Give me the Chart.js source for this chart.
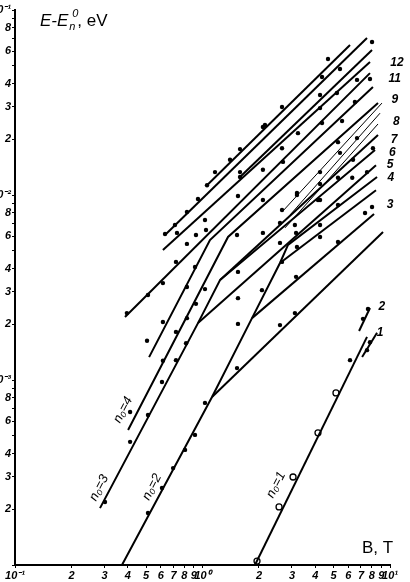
<!DOCTYPE html>
<html>
<head>
<meta charset="utf-8">
<script src="https://cdn.jsdelivr.net/npm/chart.js@4/dist/chart.umd.min.js"></script>
<style>
  html, body { margin: 0; padding: 0; background: #fff; }
  #wrap { width: 410px; height: 582px; }
</style>
</head>
<body>
<div id="wrap"><canvas id="myChart" width="410" height="582"></canvas></div>
<script>
// axis ticks
const xTicks = [0.1,0.2,0.3,0.4,0.5,0.6,0.7,0.8,0.9,1,2,3,4,5,6,7,8,9,10];
const xTickLabels = ["10⁻¹","2","3","4","5","6","7","8","9","10⁰","2","3","4","5","6","7","8","9","10¹"];
const yTicks = [1e-4,2e-4,3e-4,4e-4,5e-4,6e-4,7e-4,8e-4,9e-4,
                1e-3,2e-3,3e-3,4e-3,5e-3,6e-3,7e-3,8e-3,9e-3,
                1e-2,2e-2,3e-2,4e-2,5e-2,6e-2,7e-2,8e-2,9e-2,1e-1];
const yTickLabels = ["","2","3","4","","6","","8","",
                     "10⁻³","2","3","4","","6","","8","",
                     "10⁻²","2","3","4","","6","","8","","10⁻¹"];

// n0 = 1
const n1B = [1.905, 7.54];          const n1E = [1.0e-4, 1.71e-3];
const n1aB = [7.10, 8.53];          const n1aE = [1.33e-3, 1.80e-3];
const n1bB = [6.84, 7.82];          const n1bE = [1.84e-3, 2.45e-3];
// n0 = 2 and its branches
const n2B = [0.372, 1.124, 1.837, 2.59, 2.858, 8.53];
const n2E = [1.0e-4, 8.09e-4, 2.16e-3, 4.29e-3, 5.37e-3, 0.0125];
const n2aB = [1.124, 9.18];         const n2aE = [8.09e-4, 6.31e-3];
const n2bB = [1.837, 8.22];         const n2bE = [2.16e-3, 7.89e-3];
const n2cB = [2.59, 8.42];          const n2cE = [4.29e-3, 0.0106];
// n0 = 3 and its branches
const n3B = [0.284, 0.946, 1.240, 8.32];
const n3E = [2.03e-4, 2.03e-3, 3.47e-3, 0.0175];
const n3aB = [0.946, 8.42];         const n3aE = [2.03e-3, 0.0145];
const n3bB = [1.240, 8.63];         const n3bE = [3.47e-3, 0.0211];
// n0 = 4
const n4B = [0.401, 1.368, 8.63];   const n4E = [5.37e-4, 5.93e-3, 0.0314];
const n4aB = [0.519, 1.096, 8.11];  const n4aE = [1.33e-3, 5.71e-3, 0.0384];
// upper lines
const t1B = [1.057, 6.12];          const t1E = [0.0113, 0.0647];
const t2B = [0.631, 7.54];          const t2E = [6.08e-3, 0.0706];
const t3B = [0.615, 7.82];          const t3E = [5.04e-3, 0.0524];
const t4B = [1.585, 8.02];          const t4E = [0.0125, 0.0608];
const t5B = [0.386, 7.82];          const t5E = [2.19e-3, 0.0456];
// thin hatched lines
const h1B = [2.655, 9.06];          const h1E = [8.09e-3, 0.0314];
const h2B = [2.93, 8.85];           const h2E = [7.8e-3, 0.0277];
const h3B = [2.754, 8.63];          const h3E = [6.64e-3, 0.0242];

// open circles (n0=1)
const circB = [1.953, 2.56, 3.04, 4.13, 5.15];
const circE = [1.05e-4, 2.06e-4, 2.99e-4, 5.18e-4, 8.51e-4];

// measured points
const dotB = [6.12,7.54,7.82,7.18,7.63, 0.512,0.608,0.697,0.807,0.912,1.031,0.302,0.411,0.411,0.512,0.608,
  0.395,0.512,0.615,0.722,0.912,0.826,0.923,1.031,1.044,0.826,0.713,0.631,0.731,0.826,1.031,0.923,0.826,
  0.722,0.615,0.506,0.817,0.722,0.615,1.528,1.546,1.546,1.546,1.528,1.546,2.10,2.075,2.59,3.11,2.59,2.655,
  3.155,3.19,3.155,4.236,4.13,5.28,3.19,2.10,4.236,2.154,1.585,1.585,2.10,0.946,1.057,8.02,4.67,4.34,5.41,
  7.82,6.67,4.236,5.21,6.50,2.655,4.236,3.23,5.55,2.10,2.655,8.11,4.34,5.28,6.67,2.687,5.41,6.35,4.236,5.28,
  6.29,7.54,3.19,4.236,2.655,7.36,8.02,3.11,4.236,5.28,2.59,1.585,1.402,1.166];
const dotE = [1.28e-3,1.45e-3,1.60e-3,2.14e-3,2.42e-3, 1.91e-4,2.61e-4,3.34e-4,4.19e-4,5.05e-4,7.52e-4,2.19e-4,4.63e-4,6.72e-4,6.47e-4,9.75e-4,
  2.30e-3,2.88e-3,3.34e-3,4.35e-3,4.08e-3,5.44e-3,6.08e-3,7.33e-3,6.47e-3,8.09e-3,6.89e-3,6.16e-3,6.24e-3,3.18e-3,3.10e-3,2.58e-3,2.16e-3,
  1.82e-3,2.06e-3,1.63e-3,1.58e-3,1.28e-3,1.27e-3,6.08e-3,3.84e-3,2.77e-3,2.01e-3,1.16e-3,9.88e-3,6.24e-3,3.06e-3,1.98e-3,2.30e-3,7.06e-3,4.35e-3,
  3.61e-3,5.24e-3,6.24e-3,0.01146,9.40e-3,8.83e-3,0.0100,9.40e-3,5.93e-3,0.0239,0.0177,0.0133,0.0137,9.51e-3,0.0113,0.0671,0.0543,0.0434,0.0480,
  0.0424,0.0419,0.0347,0.0356,0.0318,0.0299,0.0295,0.0216,0.0251,0.0233,0.0179,0.0179,0.0245,0.0193,0.0203,0.0151,0.0169,0.0155,0.0133,0.0124,
  0.0124,0.0133,0.01025,9.40e-3,8.30e-3,8.00e-3,8.61e-3,6.89e-3,6.89e-3,5.57e-3,5.51e-3,0.0125,0.0155,0.0133];

// curve labels on the right
const rightLabels = ["12","11","9","8","7","6","5","4","3","2","1"];
const rightLabelB = [10.9,10.6,10.6,10.8,10.5,10.3,10.0,10.1,10.0,9.06,8.85];
const rightLabelE = [0.0517,0.0424,0.0327,0.0248,0.0198,0.0169,0.0145,0.0124,0.00883,0.00248,0.00180];
// n0 labels along the steep lines
const n0Labels = ["n₀=1","n₀=2","n₀=3","n₀=4"];
const n0LabelB = [2.466,0.538,0.281,0.377];
const n0LabelE = [2.71e-4,2.64e-4,2.61e-4,6.89e-4];

function pts(bs, es) {
  return bs.map((b, i) => ({x: b, y: es[i]}));
}
function lineSet(bs, es, w) {
  return {
    type: "line",
    data: pts(bs, es),
    borderColor: "#000",
    borderWidth: w,
    pointRadius: 0,
    fill: false,
    tension: 0
  };
}

const thick = [[n1B,n1E],[n1aB,n1aE],[n1bB,n1bE],[n2B,n2E],[n2aB,n2aE],[n2bB,n2bE],[n2cB,n2cE],
  [n3B,n3E],[n3aB,n3aE],[n3bB,n3bE],[n4B,n4E],[n4aB,n4aE],[t1B,t1E],[t2B,t2E],[t3B,t3E],[t4B,t4E],[t5B,t5E]];
const thin = [[h1B,h1E],[h2B,h2E],[h3B,h3E]];

let datasets = [];
thick.forEach(l => datasets.push(lineSet(l[0], l[1], 2)));
thin.forEach(l => datasets.push(lineSet(l[0], l[1], 1)));
datasets.push({
  type: "scatter",
  data: pts(dotB, dotE),
  pointRadius: 2.2,
  pointBackgroundColor: "#000",
  pointBorderWidth: 0
});
datasets.push({
  type: "scatter",
  data: pts(circB, circE),
  pointRadius: 3,
  pointBackgroundColor: "#fff",
  pointBorderColor: "#000",
  pointBorderWidth: 1.3
});

const textPlugin = {
  id: "texts",
  afterDraw(chart) {
    const ctx = chart.ctx;
    const xs = chart.scales.x, ys = chart.scales.y;
    ctx.save();
    ctx.fillStyle = "#000";
    // y axis name
    ctx.textBaseline = "alphabetic";
    ctx.textAlign = "left";
    ctx.font = "italic 17px 'Liberation Sans'";
    ctx.fillText("E-E", 40, 26);
    let w = ctx.measureText("E-E").width;
    ctx.font = "italic 11px 'Liberation Sans'";
    ctx.fillText("n", 40 + w + 1, 30);
    ctx.fillText("0", 40 + w + 4, 17);
    ctx.font = "17px 'Liberation Sans'";
    ctx.fillText(", eV", 40 + w + 9, 26);
    // x axis name
    ctx.fillText("B, T", 362, 553);
    // right labels
    ctx.textAlign = "center";
    ctx.textBaseline = "middle";
    ctx.font = "bold italic 12px 'Liberation Sans'";
    rightLabels.forEach((t, i) => {
      ctx.fillText(t, xs.getPixelForValue(rightLabelB[i]), ys.getPixelForValue(rightLabelE[i]));
    });
    // n0 labels
    ctx.font = "italic 13px 'Liberation Sans'";
    n0Labels.forEach((t, i) => {
      ctx.save();
      ctx.translate(xs.getPixelForValue(n0LabelB[i]), ys.getPixelForValue(n0LabelE[i]));
      ctx.rotate(-63 * Math.PI / 180);
      ctx.fillText(t, 0, 0);
      ctx.restore();
    });
    ctx.restore();
  }
};

const tickFont = {family: "Liberation Sans", size: 11, style: "italic", weight: "bold"};

new Chart(document.getElementById("myChart"), {
  data: {datasets: datasets},
  options: {
    responsive: false,
    animation: false,
    devicePixelRatio: 1,
    layout: {padding: {left: 0, top: 10, right: 20, bottom: 0}},
    plugins: {legend: {display: false}, tooltip: {enabled: false}},
    scales: {
      x: {
        type: "logarithmic",
        min: 0.1, max: 10,
        border: {color: "#000", width: 2},
        grid: {drawOnChartArea: false, drawTicks: true, tickLength: 3, color: "#000"},
        afterBuildTicks: s => { s.ticks = xTicks.map(v => ({value: v})); },
        afterFit: s => { s.height = 17; },
        ticks: {
          autoSkip: false, maxRotation: 0, padding: 1, color: "#000", font: tickFont,
          callback: (v, i) => xTickLabels[i]
        }
      },
      y: {
        type: "logarithmic",
        min: 1e-4, max: 0.1,
        border: {color: "#000", width: 2},
        grid: {drawOnChartArea: false, drawTicks: true, tickLength: 3, color: "#000"},
        afterBuildTicks: s => { s.ticks = yTicks.map(v => ({value: v})); },
        afterFit: s => { s.width = 15; },
        ticks: {
          autoSkip: false, padding: 1, color: "#000", font: tickFont,
          callback: (v, i) => yTickLabels[i]
        }
      }
    }
  },
  plugins: [textPlugin]
});
</script>
</body>
</html>
